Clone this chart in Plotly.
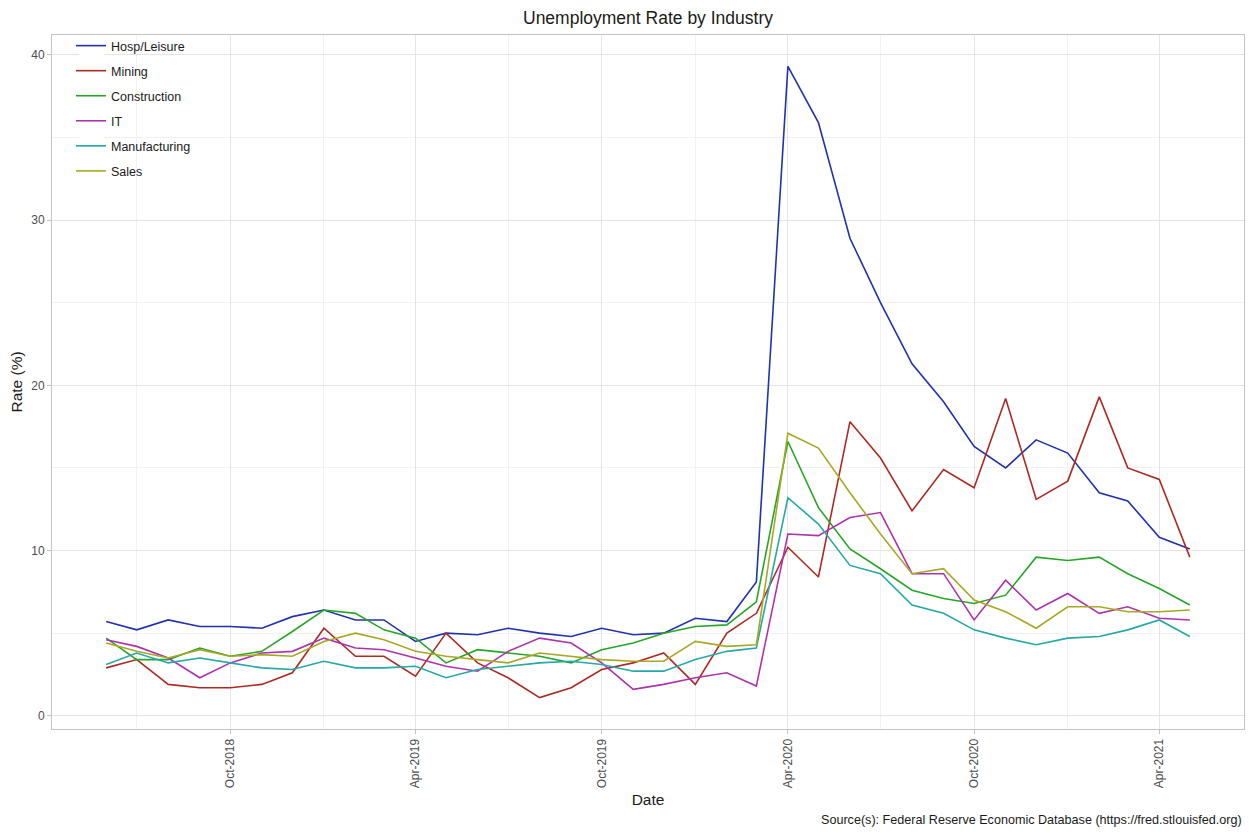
import pandas as pd
import plotly.graph_objects as go

# Monthly observations, Jun-2018 through May-2021
months = pd.date_range("2018-06-01", periods=36, freq="MS")

hosp_leisure = [5.7, 5.2, 5.8, 5.4, 5.4, 5.3, 6.0, 6.4, 5.8, 5.8, 4.5, 5.0,
                4.9, 5.3, 5.0, 4.8, 5.3, 4.9, 5.0, 5.9, 5.7, 8.1, 39.3, 35.9,
                28.9, 25.0, 21.3, 19.0, 16.3, 15.0, 16.7, 15.9, 13.5, 13.0, 10.8, 10.1]
mining = [2.9, 3.4, 1.9, 1.7, 1.7, 1.9, 2.6, 5.3, 3.6, 3.6, 2.4, 5.0,
          3.2, 2.3, 1.1, 1.7, 2.8, 3.2, 3.8, 1.9, 5.0, 6.2, 10.2, 8.4,
          17.8, 15.6, 12.4, 14.9, 13.8, 19.2, 13.1, 14.2, 19.3, 15.0, 14.3, 9.6]
construction = [4.7, 3.4, 3.4, 4.1, 3.6, 3.9, 5.1, 6.4, 6.2, 5.2, 4.7, 3.2,
                4.0, 3.8, 3.6, 3.2, 4.0, 4.4, 5.0, 5.4, 5.5, 6.9, 16.6, 12.6,
                10.1, 8.9, 7.6, 7.1, 6.8, 7.3, 9.6, 9.4, 9.6, 8.6, 7.7, 6.7]
it = [4.6, 4.2, 3.5, 2.3, 3.2, 3.8, 3.9, 4.7, 4.1, 4.0, 3.5, 3.0,
      2.7, 3.9, 4.7, 4.4, 3.2, 1.6, 1.9, 2.3, 2.6, 1.8, 11.0, 10.9,
      12.0, 12.3, 8.6, 8.6, 5.8, 8.2, 6.4, 7.4, 6.2, 6.6, 5.9, 5.8]
manufacturing = [3.1, 3.8, 3.2, 3.5, 3.2, 2.9, 2.8, 3.3, 2.9, 2.9, 3.0, 2.3,
                 2.8, 3.0, 3.2, 3.3, 3.1, 2.7, 2.7, 3.4, 3.9, 4.1, 13.2, 11.6,
                 9.1, 8.6, 6.7, 6.2, 5.2, 4.7, 4.3, 4.7, 4.8, 5.2, 5.8, 4.8]
sales = [4.4, 3.9, 3.5, 4.0, 3.6, 3.7, 3.6, 4.5, 5.0, 4.6, 3.9, 3.6,
         3.4, 3.2, 3.8, 3.6, 3.4, 3.3, 3.3, 4.5, 4.2, 4.3, 17.1, 16.2,
         13.5, 11.0, 8.6, 8.9, 7.0, 6.3, 5.3, 6.6, 6.6, 6.3, 6.3, 6.4]

series_names = ["Hosp/Leisure", "Mining", "Construction", "IT", "Manufacturing", "Sales"]
series_values = [hosp_leisure, mining, construction, it, manufacturing, sales]
series_colors = ["#2132ad", "#ad2a22", "#26a626", "#ad33ad", "#24a8a8", "#a8a826"]

x_tick_dates = ["2018-10-01", "2019-04-01", "2019-10-01", "2020-04-01", "2020-10-01", "2021-04-01"]
x_tick_labels = ["Oct-2018", "Apr-2019", "Oct-2019", "Apr-2020", "Oct-2020", "Apr-2021"]
x_minor_dates = ["2018-07-01", "2019-01-01", "2019-07-01", "2020-01-01", "2020-07-01", "2021-01-01"]
y_tick_values = [0, 10, 20, 30, 40]
y_minor_values = [5, 15, 25, 35]

FONT = "Liberation Sans, Arial, Helvetica, sans-serif"
W, H = 1249, 832
L, R, T, B = 52, 5, 35, 103
PW, PH = W - L - R, H - T - B

fig = go.Figure()
for i, (name, vals, col) in enumerate(zip(series_names, series_values, series_colors)):
    fig.add_trace(go.Scatter(
        x=months, y=vals, mode="lines", name=name,
        legendgroup=f"g{i}",
        line=dict(color=col, width=1.6),
    ))

# 5% padding either side of the data span, as in ggplot's default expansion
pad = (months[-1] - months[0]) * 0.05
x_range = [months[0] - pad, months[-1] + pad]

grid_major = "#e4e4e4"
grid_minor = "#f1f1f1"
border = "#c4c4c4"

fig.update_layout(
    width=W, height=H,
    margin=dict(l=L, r=R, t=T, b=B, autoexpand=False),
    paper_bgcolor="white",
    plot_bgcolor="white",
    font=dict(family=FONT, color="#1a1a1a"),
    title=dict(
        text="Unemployment Rate by Industry",
        x=0.5, xref="paper", xanchor="center",
        y=1 - 18 / H, yref="container", yanchor="middle",
        font=dict(size=17.5, color="#1a1a1a"),
    ),
    showlegend=True,
    legend=dict(
        x=(71 - L) / PW, xanchor="left",
        y=1.0 + 4 / PH, yanchor="top",
        bgcolor="rgba(0,0,0,0)",
        borderwidth=0,
        font=dict(size=12.5, color="#1a1a1a"),
        tracegroupgap=5.8,
        traceorder="grouped",
    ),
    xaxis=dict(
        type="date",
        range=x_range,
        tickmode="array",
        tickvals=x_tick_dates,
        ticktext=x_tick_labels,
        tickangle=-90,
        tickfont=dict(size=12, color="#4d4d4d"),
        ticks="outside", ticklen=4, tickcolor=border, tickwidth=1,
        showgrid=True, gridcolor=grid_major, gridwidth=1,
        minor=dict(tickmode="array", tickvals=x_minor_dates, showgrid=True,
                   gridcolor=grid_minor, gridwidth=1, ticks=""),
        showline=True, linecolor=border, linewidth=1, mirror=True,
        zeroline=False,
        title=dict(text="Date", font=dict(size=15.5, color="#1a1a1a"), standoff=6),
        automargin=False,
    ),
    yaxis=dict(
        range=[-0.8, 41.2],
        tickmode="array",
        tickvals=y_tick_values,
        tickfont=dict(size=12, color="#4d4d4d"),
        ticks="outside", ticklen=4, tickcolor=border, tickwidth=1,
        showgrid=True, gridcolor=grid_major, gridwidth=1,
        minor=dict(tickmode="array", tickvals=y_minor_values, showgrid=True,
                   gridcolor=grid_minor, gridwidth=1, ticks=""),
        showline=True, linecolor=border, linewidth=1, mirror=True,
        zeroline=False,
        title=dict(text="Rate (%)", font=dict(size=15.5, color="#1a1a1a"), standoff=4),
        automargin=False,
    ),
    annotations=[dict(
        text="Source(s): Federal Reserve Economic Database (https://fred.stlouisfed.org)",
        xref="paper", yref="paper",
        x=1.0, xanchor="right",
        y=-(820 - (H - B)) / PH, yanchor="middle",
        showarrow=False,
        font=dict(size=12.6, color="#1a1a1a"),
    )],
    shapes=[dict(
        # white backing behind the legend keys
        type="rect", xref="paper", yref="paper", layer="above",
        x0=(79 - L) / PW, x1=(104 - L) / PW,
        y0=((H - B) - 185) / PH, y1=1.0,
        fillcolor="white", line=dict(width=0),
    )],
)

fig.write_html("out.html")
